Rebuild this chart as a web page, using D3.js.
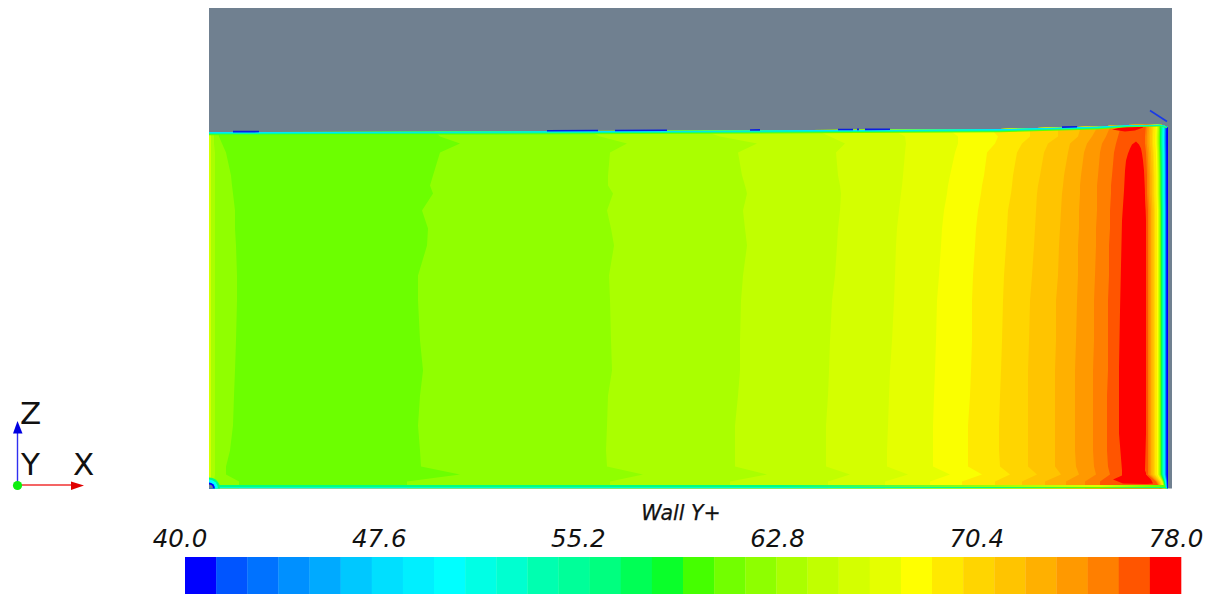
<!DOCTYPE html>
<html><head><meta charset="utf-8">
<script src="https://cdn.jsdelivr.net/npm/d3@7"></script>
<style>html,body{margin:0;padding:0;background:#fff}svg{display:block}text{font-family:"DejaVu Sans",sans-serif;fill:#111}</style>
</head><body><svg id="c" width="1211" height="595"></svg>
<script>
// ---- legend ----
const legendTicks = [40.0, 47.6, 55.2, 62.8, 70.4, 78.0];
const legendColors = ["#0000ff","#0055ff","#0072ff","#0090ff","#00aaff","#00c8ff","#00dfff","#00efff","#00ffff","#00ffe5","#00ffd0","#00ffb0","#00ff99","#00ff7f","#00ff55","#0aff2a","#45ff00","#72ff00","#8eff00","#aaff00","#c1ff00","#d4ff00","#e5ff00","#ffff00","#ffe900","#ffd500","#ffc400","#ffb000","#ff9900","#ff7f00","#ff5500","#ff0000"];
const legendTitle = "Wall Y+";
// ---- contour boundaries: x along the wall at each height z ----
const zLevels = [366,352,345,336,313,303,295,278,260,243,213,188,148,118,93,63,38,22,14,7,0];
const bandColors = ["#90ff00","#aaff00","#c1ff00","#d4ff00","#e5ff00","#faff00","#ffe900","#ffd500","#ffc400","#ffb000","#ff9900","#ff7f00","#ff5500"];
const b1  = [216,231,251,231,224,221,224,213,219,218,209,209,211,214,211,209,211,212,251,198,198];
const b2  = [361,391,418,401,399,399,404,398,402,405,400,401,402,403,399,398,397,398,434,401,401];
const b3  = [468,511,548,529,533,536,538,534,536,538,534,532,531,531,529,526,526,526,558,521,521];
const b4  = [591,621,636,627,629,631,632,631,629,628,626,623,621,620,619,617,617,617,641,619,619];
const b5  = [671,696,697,696,694,693,692,690,688,687,686,685,683,681,680,679,678,678,699,676,676];
const b6  = [731,749,749,746,741,739,738,735,733,732,730,728,727,726,725,724,724,724,741,721,721];
const b7  = [776,789,786,778,775,773,772,769,767,766,764,763,763,762,761,759,759,759,773,753,753];
const b8  = [821,821,813,808,804,803,802,799,798,797,795,794,793,792,791,790,790,791,801,786,786];
const b9  = [849,849,839,835,831,829,828,827,826,825,823,821,820,819,819,819,819,819,828,813,813];
const b10 = [873,869,861,859,855,854,853,852,851,850,849,847,847,846,846,846,846,846,852,836,836];
const b11 = [891,883,878,875,872,871,871,870,870,869,869,868,867,866,866,866,866,867,870,857,857];
const b12 = [903,897,893,891,889,888,888,888,887,887,886,885,885,884,884,884,884,885,887,876,876];
const b13 = [913,909,907,905,903,902,902,901,901,900,900,899,899,899,898,898,898,899,901,891,891];
const boundaries = [b1,b2,b3,b4,b5,b6,b7,b8,b9,b10,b11,b12,b13];
const plateColor = "#6cff00";
// left-hand edge bands
const leftA = [8,10,13,17,22,23,24,26,26,27,28,28,27,26,25,24,21,17,17,30,30];
const leftB = [5,5,5,6,6,6,6,6,6,6,6,6,6,6,6,6,6,6,6,5,5];
const leftC = [2,2,2,2,2,2,2,2,2,2,2,2,2,2,2,2,2,2,2,2,2];
const leftColors = ["#90ff00","#aaff00","#d4ff00"];
// red core
const redZ = [347,344,340,335,328,318,298,268,178,121,55,18,13,9,5,4.5];
const redLeft = [927,923,921,919,917,916,915,913,911,910,910,913,913,904,914,935];
const redRight = [927,930,932,933,934,935,936,937,937,937,937,936,938,942,944,938];
const redPatchX = [903,916,934,934,926,916];
const redPatchZ = [359,362,363,361,358,357];
// right-hand wall bands
const rightX = [937,939,940.5,942,943.5,945,946,948,949,950,951,952,953,954,955,955.6,956.2,956.8,957.5];
const rightColors = ["#ff5500","#ff7f00","#ff9900","#ffb000","#ffc400","#ffd500","#ffe900","#ffff00","#d4ff00","#aaff00","#6cff00","#00ff55","#00ff99","#00ffdd","#00ffff","#00ccff","#0099ff","#0055ff","#0000ff"];
const rightSpread = [1.1,1.15,1.15,1.1,1.05,1.05,1.05,1,1,1,1,1,1,1,1,1,1,1,1,0.6,0.4];
// top wall edge
const topEdgeX = [0,191,491,791,888,918,951,958];
const topEdgeZ = [356.5,357,358,359.5,362,363.5,364,362];
const topEdgeTaper = [1,1,1,1,0.9,0.7,0.6,0.5];
const topStripeDepth = [1.3,2.3,3.3];
const topStripeColors = ["#00e5ff","#00ff99","#60ff00"];
const speckStart = [24,338,406,541,629,648,656,853];
const speckEnd = [50,389,458,551,644,650,681,868];
const strayX = [941,958];
const strayZ = [378,367];
// bottom wall edge
const bottomStops = [0,0.6,0.82,0.93,1];
const bottomOuter = ["#00ffd0","#00ffd0","#00ff80","#60ff00","#00ff80"];
const bottomInner = ["#00ff80","#00ff80","#a0ff00","#e0ff00","#60ff00"];
// corner
const cornerR = [11,9,6,4];
const cornerColors = ["#00ff80","#00ffff","#0000ff","#708090"];

const svg = d3.select("#c");
const x = d3.scaleLinear().domain([0,963]).range([209,1172]);
const z = d3.scaleLinear().domain([0,480]).range([488.5,8.5]);
const wallX = 959;

// grey background
svg.append("rect").attr("x",x(0)).attr("y",z(480.5)).attr("width",x(963)-x(0)).attr("height",z(0)-z(480.5)).attr("fill","#708090");

// plate clip
const plateOutline = d3.line().x(d=>x(d[0])).y(d=>z(d[1]));
const platePts = topEdgeX.map((v,i)=>[v,topEdgeZ[i]]).concat([[wallX,360],[wallX,0],[0,0]]);
svg.append("clipPath").attr("id","plate").append("path").attr("d",plateOutline(platePts)+"Z");
const g = svg.append("g").attr("clip-path","url(#plate)");
g.append("rect").attr("x",x(0)).attr("y",z(370)).attr("width",x(wallX)-x(0)).attr("height",z(0)-z(370)).attr("fill",plateColor);

// contour bands
const band = d3.area().y(d=>z(d.z)).x0(d=>x(d.a)).x1(d=>x(d.b));
const toRight = arr => zLevels.map((v,i)=>({z:v,a:arr[i],b:wallX}));
const toLeft  = arr => zLevels.map((v,i)=>({z:v,a:0,b:arr[i]}));
boundaries.forEach((b,i)=>g.append("path").attr("d",band(toRight(b))).attr("fill",bandColors[i]));
[leftA,leftB,leftC].forEach((b,i)=>g.append("path").attr("d",band(toLeft(b))).attr("fill",leftColors[i]));

// red core
g.append("path").attr("d",band(redZ.map((v,i)=>({z:v,a:redLeft[i],b:redRight[i]})))).attr("fill","#ff0000");
g.append("path").attr("d",plateOutline(redPatchX.map((v,i)=>[v,redPatchZ[i]]))+"Z").attr("fill","#ff0000");

// right wall bands
rightX.forEach((rx,i)=>{
  const pts = zLevels.map((v,k)=>({z:v,a:wallX-(wallX-rx)*rightSpread[k],b:wallX}));
  g.append("path").attr("d",band(pts)).attr("fill",rightColors[i]);
});

// top stripes
const topAt = d3.scaleLinear().domain(topEdgeX).range(topEdgeZ);
topStripeDepth.slice().reverse().forEach((d,i)=>{
  const c = topStripeColors[topStripeColors.length-1-i];
  const pts = topEdgeX.map((v,k)=>({x:v,t:topEdgeZ[k],b:topEdgeZ[k]-d*topEdgeTaper[k]}));
  g.append("path").attr("d",d3.area().x(p=>x(p.x)).y0(p=>z(p.b)).y1(p=>z(p.t))(pts)).attr("fill",c);
});

// bottom stripes with colour running along the wall
const defs = svg.append("defs");
[["gOuter",bottomOuter],["gInner",bottomInner]].forEach(([id,cols])=>{
  const lg = defs.append("linearGradient").attr("id",id);
  bottomStops.forEach((s,i)=>lg.append("stop").attr("offset",s).attr("stop-color",cols[i]));
});
g.append("rect").attr("x",x(0)).attr("y",z(3.5)).attr("width",x(956)-x(0)).attr("height",z(1.5)-z(3.5)).attr("fill","url(#gInner)");
g.append("rect").attr("x",x(0)).attr("y",z(1.5)).attr("width",x(956)-x(0)).attr("height",z(0)-z(1.5)).attr("fill","url(#gOuter)");

// corner
cornerR.forEach((r,i)=>g.append("circle").attr("cx",x(0)).attr("cy",z(0)).attr("r",r).attr("fill",cornerColors[i]));

// blue specks on the top edge
speckStart.forEach((s,i)=>{
  svg.append("line").attr("x1",x(s)).attr("x2",x(speckEnd[i]))
     .attr("y1",z(topAt(s))-0.3).attr("y2",z(topAt(speckEnd[i]))-0.3)
     .attr("stroke","#0a1ee0").attr("stroke-width",1.6);
});
svg.append("line").attr("x1",x(strayX[0])).attr("x2",x(strayX[1])).attr("y1",z(strayZ[0])).attr("y2",z(strayZ[1]))
   .attr("stroke","#1a3ae6").attr("stroke-width",1.6);

// legend
const cells = d3.scaleBand().domain(d3.range(legendColors.length)).range([185,1181]);
svg.append("g").selectAll("rect").data(legendColors).join("rect")
  .attr("x",(d,i)=>cells(i)).attr("y",557).attr("width",cells.bandwidth()+0.3).attr("height",37).attr("fill",d=>d);
const legendScale = d3.scaleLinear().domain([40,78]).range([185,1181]);
const ax = svg.append("g").attr("transform","translate(-5.5,547)")
  .call(d3.axisTop(legendScale).tickValues(legendTicks).tickSize(0).tickPadding(0).tickFormat(d3.format(".1f")));
ax.select(".domain").remove();
ax.selectAll("text").attr("font-family","'DejaVu Sans',sans-serif").attr("font-size",24.5).attr("font-style","italic").attr("fill","#111");
svg.append("text").attr("x",681).attr("y",520).attr("text-anchor","middle").attr("font-size",20.5).attr("font-style","italic").attr("stroke","#111").attr("stroke-width",0.25).text(legendTitle);

// orientation triad
const triad = svg.append("g");
triad.append("line").attr("x1",17.5).attr("y1",485).attr("x2",17.5).attr("y2",430).attr("stroke","#3030f0").attr("stroke-width",1.4);
triad.append("line").attr("x1",17.5).attr("y1",485).attr("x2",74).attr("y2",485).attr("stroke","#f03030").attr("stroke-width",1.4);
triad.append("path").attr("d","M17.5 421L13 433.5L22.5 433.5Z").attr("fill","#0000e0");
triad.append("path").attr("d","M84 485.5L71 481.5L71 490Z").attr("fill","#e00000");
triad.append("circle").attr("cx",17.5).attr("cy",485.5).attr("r",4.6).attr("fill","#10ee10");
[["Z",20,423.5],["Y",21,475],["X",73,475]].forEach(([t,tx,ty])=>
  triad.append("text").attr("x",tx).attr("y",ty).attr("font-size",31).text(t));
</script></body></html>
